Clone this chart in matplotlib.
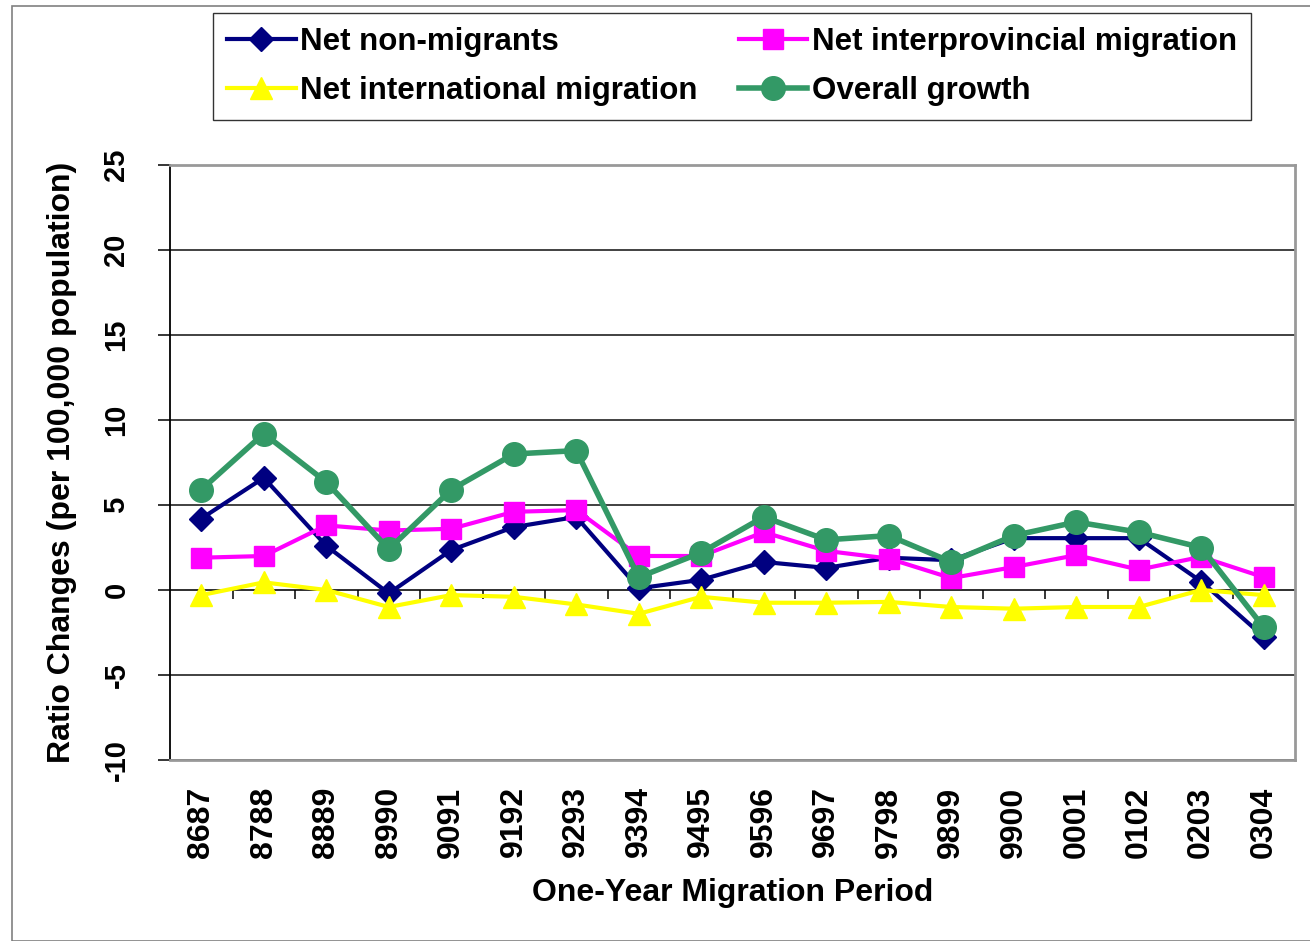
import numpy as np
import matplotlib
matplotlib.use('Agg')
import matplotlib.pyplot as plt
from matplotlib.patches import Rectangle

plt.rcParams['font.family'] = ['Liberation Sans', 'DejaVu Sans']
plt.rcParams['font.weight'] = 'bold'
plt.rcParams['axes.unicode_minus'] = False

periods = ['8687', '8788', '8889', '8990', '9091', '9192', '9293', '9394', '9495',
           '9596', '9697', '9798', '9899', '9900', '0001', '0102', '0203', '0304']
non_migrants = [4.2, 6.6, 2.6, -0.2, 2.35, 3.7, 4.3, 0.1, 0.6,
                1.65, 1.3, 1.9, 1.75, 3.05, 3.05, 3.05, 0.5, -2.75]
interprovincial = [1.9, 2.0, 3.8, 3.5, 3.6, 4.6, 4.7, 2.0, 2.0,
                   3.4, 2.3, 1.85, 0.7, 1.35, 2.05, 1.2, 1.95, 0.75]
international = [-0.3, 0.45, 0.0, -1.0, -0.3, -0.4, -0.85, -1.4, -0.4,
                 -0.75, -0.75, -0.7, -1.0, -1.1, -1.0, -1.0, 0.0, -0.3]
overall = [5.9, 9.2, 6.35, 2.4, 5.9, 8.0, 8.2, 0.75, 2.2,
           4.3, 2.95, 3.2, 1.65, 3.2, 4.0, 3.4, 2.5, -2.2]

x = np.arange(len(periods))

fig = plt.figure(figsize=(13.1, 9.41), dpi=100)
fig.patches.append(Rectangle((12 / 1310, 0), 1.0, 1 - 6 / 941, transform=fig.transFigure,
                             fill=False, edgecolor='#808080', linewidth=1.2))
ax = fig.add_axes([170 / 1310, 181 / 941, 1125 / 1310, 595 / 941])

ax.set_xlim(-0.5, len(periods) - 0.5)
ax.set_ylim(-10, 25)
ax.set_yticks(np.arange(-10, 26, 5))
ax.yaxis.grid(True, color='#333333', linewidth=1.3)
ax.set_axisbelow(True)

# category axis crosses at zero, ticks between categories
ax.axhline(0, color='#333333', linewidth=1.3, zorder=1)
ax.vlines(np.arange(0.5, len(periods) - 0.5, 1), -0.55, 0, color='black', linewidth=1.1, zorder=1)

ax.plot(x, non_migrants, color='#000080', marker='D', markersize=12, linewidth=3,
        label='Net non-migrants', zorder=3)
ax.plot(x, interprovincial, color='#FF00FF', marker='s', markersize=14, linewidth=3,
        label='Net interprovincial migration', zorder=3)
ax.plot(x, international, color='#FFFF00', marker='^', markersize=16, linewidth=3,
        label='Net international migration', zorder=3)
ax.plot(x, overall, color='#339966', marker='o', markersize=17, linewidth=4,
        label='Overall growth', zorder=4)

ax.set_xticks(x)
ax.set_xticklabels(periods, rotation=90, fontsize=23, fontweight='bold')
ax.tick_params(axis='x', length=0, pad=19)
ax.tick_params(axis='y', length=8.5, width=1.1, pad=20, labelsize=21, labelrotation=90)
for lbl in ax.get_yticklabels():
    lbl.set_fontweight('bold')
    lbl.set_va('center')

for side in ['top', 'right', 'bottom']:
    ax.spines[side].set_color('#999999')
    ax.spines[side].set_linewidth(2)
ax.spines['left'].set_color('black')
ax.spines['left'].set_linewidth(1.3)

ax.set_ylabel('Ratio Changes (per 100,000 population)', fontsize=23, fontweight='bold')
ax.yaxis.label.set_va('center')
ax.yaxis.set_label_coords((62 - 170) / 1125, 0.5)
ax.set_xlabel('One-Year Migration Period', fontsize=23, fontweight='bold')
ax.xaxis.label.set_va('center')
ax.xaxis.set_label_coords(0.5, (760 - 893) / 595)

handles, labels = ax.get_legend_handles_labels()
order = [0, 2, 1, 3]
leg = fig.legend([handles[i] for i in order], [labels[i] for i in order], ncol=2,
                 loc='upper left', bbox_to_anchor=(213 / 1310, 1 - 13 / 941),
                 prop={'weight': 'bold', 'size': 22.5}, frameon=True, fancybox=False,
                 edgecolor='black', handlelength=2.2, handletextpad=0.15,
                 columnspacing=1.3, borderpad=0.45, labelspacing=0.6,
                 borderaxespad=0)
leg.get_frame().set_linewidth(1.0)

fig.savefig('out.png', dpi=100)
